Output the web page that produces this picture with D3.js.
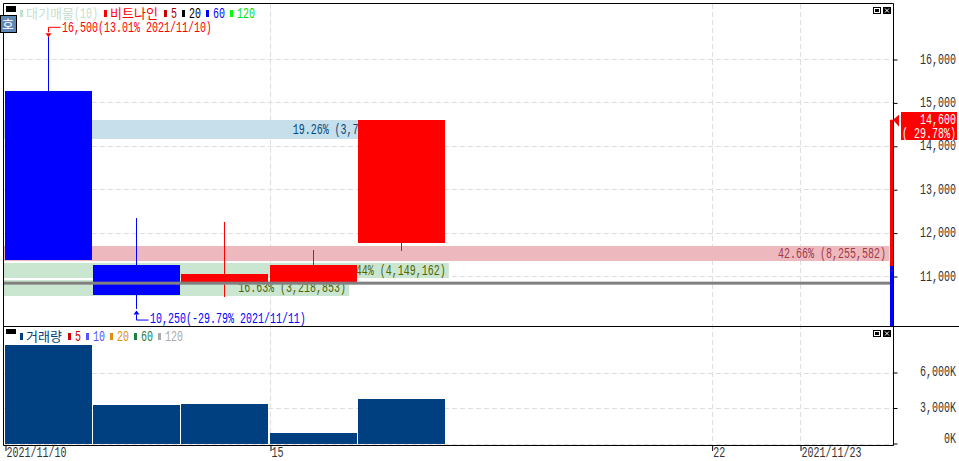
<!DOCTYPE html>
<html>
<head>
<meta charset="utf-8">
<script src="https://cdn.jsdelivr.net/npm/d3@7"></script>
<style>
    html, body { margin: 0; padding: 0; background: #fff; overflow: hidden; }
    svg { display: block; }
</style>
</head>
<body>
<div id="chart"></div>
<script>
// Step 1: chart values
var dates = ["2021/11/10", "11", "12", "15", "16", "17", "18", "19", "22", "2021/11/23"];
var dateTicks = ["2021/11/10", "15", "22", "2021/11/23"];
var gridDates = ["15", "22", "2021/11/23"];

var opens = [15260, 11250, 10860, 10860, 11760];
var closes = [11370, 10560, 11050, 11250, 14600];
var highs = [16500, 12340, 12250, 11600, 14600];
var lows = [11370, 10250, 10520, 10860, 11580];
var volumes = [8330000, 3218853, 3350000, 880000, 3730000];

var priceTicks = [16000, 15000, 14000, 13000, 12000, 11000];
var volumeTicks = [6000000, 3000000, 0];

// waiting-volume bands: price range, share and size
var bandTops = [14600, 11691, 11300, 10908];
var bandBottoms = [14157, 11346, 10954, 10539];
var bandVolumes = [3727285, 8255582, 4149162, 3218853];
var bandShares = ["19.26%", "42.66%", "21.44%", "16.63%"];
var bandKinds = ["blue", "red", "green", "green"];

var avgLine = 10835;
var rangeMid = 11230;
var lastPrice = 14600;

// Step 2: set up the svg
var svgWidth = 959;
var svgHeight = 461;
var mono = "'Liberation Mono', monospace";
var hangul = "'Noto Sans CJK KR', sans-serif";

var svg = d3.select("#chart")
    .append("svg")
    .attr("width", svgWidth)
    .attr("height", svgHeight);

// Step 3: scales
var x = d3.scalePoint().domain(dates).range([5, 800]);
var step = x.step();
var y = d3.scaleLinear().domain([16000, 11000]).range([59, 276]);
var yVol = d3.scaleLinear().domain([0, 6000000]).range([443.5, 372.5]);
var xVolBand = d3.scaleLinear().domain([0, 8255582]).range([4, 889]);

var bandFill = { blue: "#c6dfeb", red: "#eeb9be", green: "#cbe6d0" };
var bandText = { blue: "#004a80", red: "#a03a4a", green: "#4f6400" };

var isHangul = s => /[\uac00-\ud7a3]/.test(s);

// the original font is tall and narrow: 6px per char, so squeeze the mono font sideways
function label(g, str, px, py, color, anchor, size) {
    var fontSize = size || 15;
    return g.append("text")
        .attr("transform", `translate(${px},${py}) scale(${6 / (fontSize * 0.6)},1)`)
        .attr("fill", color)
        .attr("text-anchor", anchor || "start")
        .attr("font-family", mono)
        .attr("font-size", fontSize)
        .text(str);
}

function hangulLabel(g, str, px, py, color) {
    return g.append("text")
        .attr("x", px)
        .attr("y", py)
        .attr("fill", color)
        .attr("font-family", hangul)
        .attr("font-size", 13)
        .text(str);
}

// Step 4: grid
var grid = svg.append("g")
    .attr("stroke", "#dedede")
    .attr("stroke-dasharray", "5,3")
    .attr("fill", "none");

grid.selectAll(".hp").data(priceTicks).enter().append("line")
    .attr("x1", 4).attr("x2", 893)
    .attr("y1", d => Math.round(y(d)) + 0.5)
    .attr("y2", d => Math.round(y(d)) + 0.5);

grid.selectAll(".hv").data(volumeTicks).enter().append("line")
    .attr("x1", 4).attr("x2", 893)
    .attr("y1", d => Math.round(yVol(d)) + 0.5)
    .attr("y2", d => Math.round(yVol(d)) + 0.5);

grid.selectAll(".v").data(gridDates).enter().append("line")
    .attr("x1", d => Math.round(x(d)) + 0.5)
    .attr("x2", d => Math.round(x(d)) + 0.5)
    .attr("y1", 4).attr("y2", 445);

// Step 5: waiting-volume bands
var bands = svg.append("g");
bandVolumes.forEach(function(v, i) {
    var kind = bandKinds[i];
    var top = Math.round(y(bandTops[i]));
    var bottom = Math.round(y(bandBottoms[i]));
    bands.append("rect")
        .attr("x", 4)
        .attr("y", top)
        .attr("width", xVolBand(v) - 4)
        .attr("height", bottom - top)
        .attr("fill", bandFill[kind]);
    label(bands, bandShares[i] + " (" + d3.format(",")(v) + ")",
        xVolBand(v) - 3, (top + bottom) / 2 + 4, bandText[kind], "end");
});

// Step 6: candles
var candles = svg.append("g");
var candleData = d3.range(opens.length);
var bodyX = i => Math.floor(x(dates[i]));
var wickX = i => Math.floor(x(dates[i]) + step / 2) - 1;
var candleColor = i => closes[i] >= opens[i] ? "#ff0000" : "#0000ff";

candles.selectAll(".wick").data(candleData).enter().append("rect")
    .attr("class", "wick")
    .attr("x", i => wickX(i))
    .attr("width", 1)
    .attr("y", i => Math.round(y(highs[i])))
    .attr("height", i => Math.round(y(lows[i])) - Math.round(y(highs[i])))
    .attr("fill", candleColor);

candles.selectAll(".body").data(candleData).enter().append("rect")
    .attr("class", "body")
    .attr("x", i => bodyX(i))
    .attr("y", i => Math.round(y(Math.max(opens[i], closes[i]))))
    .attr("width", 87)
    .attr("height", i => Math.round(Math.abs(y(opens[i]) - y(closes[i]))))
    .attr("fill", candleColor);

// grey average line sits on top of the candles
svg.append("rect")
    .attr("x", 4)
    .attr("y", y(avgLine) - 1.5)
    .attr("width", 889)
    .attr("height", 3)
    .attr("fill", "#808080");

// high / low notes
var hiX = wickX(0) + 0.5;
var hiY = y(highs[0]);
svg.append("path")
    .attr("d", `M${hiX},${hiY - 5}V${hiY - 10}H${hiX + 12}`)
    .attr("fill", "none").attr("stroke", "#ff0000");
svg.append("path")
    .attr("d", `M${hiX - 3},${hiY - 4}H${hiX + 3}L${hiX},${hiY}Z`)
    .attr("fill", "#ff0000");
label(svg, "16,500(13.01% 2021/11/10)", 62, 32, "#ff0000");

var loX = wickX(1) + 0.5;
var loY = y(lows[1]) + 2;
svg.append("path")
    .attr("d", `M${loX},${loY + 4}V${loY + 9.5}H${loX + 12}`)
    .attr("fill", "none").attr("stroke", "#0000ff");
svg.append("path")
    .attr("d", `M${loX - 3},${loY + 4}H${loX + 3}L${loX},${loY}Z`)
    .attr("fill", "#0000ff");
label(svg, "10,250(-29.79% 2021/11/11)", 150, 323, "#0000ff");

// Step 7: price range bar at the right edge
svg.append("rect")
    .attr("x", 890).attr("width", 3)
    .attr("y", y(lastPrice))
    .attr("height", y(rangeMid) - y(lastPrice))
    .attr("fill", "#ff0000");
svg.append("rect")
    .attr("x", 890).attr("width", 3)
    .attr("y", y(rangeMid))
    .attr("height", 326 - y(rangeMid))
    .attr("fill", "#0000ff");

// Step 8: volume bars
svg.append("g").selectAll("rect").data(volumes).enter().append("rect")
    .attr("x", (d, i) => bodyX(i))
    .attr("y", d => Math.round(yVol(d)))
    .attr("width", 87)
    .attr("height", d => 444 - Math.round(yVol(d)))
    .attr("fill", "#004080");

// Step 9: frames
var frame = svg.append("g").attr("stroke", "#000").attr("fill", "none");
frame.append("path").attr("d", "M3.5,3.5H893.5V445.5H3.5Z");
frame.append("line").attr("x1", 3).attr("x2", 959).attr("y1", 326.5).attr("y2", 326.5);

// Step 10: axes
function styleAxis(g) {
    g.select(".domain").remove();
    g.selectAll("line").attr("stroke", "#000");
    g.selectAll("text").remove();
}

svg.append("g")
    .attr("transform", "translate(893.5,0.5)")
    .call(d3.axisRight(y).tickValues(priceTicks).tickSize(4))
    .call(styleAxis);
priceTicks.forEach(function(t) {
    label(svg, d3.format(",")(t), 956, y(t) + 4.5, "#333", "end");
});

svg.append("g")
    .attr("transform", "translate(893.5,0)")
    .call(d3.axisRight(yVol).tickValues(volumeTicks).tickSize(4))
    .call(styleAxis);
volumeTicks.forEach(function(t) {
    label(svg, d3.format(",")(t / 1000) + "K", 956, Math.min(yVol(t) + 3.5, 443), "#333", "end");
});

svg.append("g")
    .attr("transform", "translate(0.5,445)")
    .call(d3.axisBottom(x).tickValues(dateTicks).tickSize(6))
    .call(styleAxis);
dateTicks.forEach(function(t) {
    label(svg, t, x(t) + 1.5, 456.5, "#333", "start", 14);
});

// Step 11: last price tag
svg.append("rect")
    .attr("x", 901).attr("y", 112).attr("width", 56).attr("height", 28)
    .attr("fill", "#ff0000");
svg.append("path")
    .attr("d", `M893,${y(lastPrice)}L899,${y(lastPrice) - 5}V${y(lastPrice) + 7}Z`)
    .attr("fill", "#ff0000");
label(svg, d3.format(",")(lastPrice), 956, 124, "#fff", "end");
label(svg, "( 29.78%)", 956, 138, "#fff", "end");

// Step 12: legends
var priceLegend = [
    { name: "대기매물", extra: "(10)", mark: "#c5e0cc", text: "#c5e0cc", x: 20 },
    { name: "비트나인", mark: "#ff0000", text: "#ff0000", x: 104 },
    { name: "5", mark: "#c80000", text: "#a00000", x: 164 },
    { name: "20", mark: "#000000", text: "#000000", x: 182 },
    { name: "60", mark: "#0000ff", text: "#0000ff", x: 206 },
    { name: "120", mark: "#00ff00", text: "#00e000", x: 230 }
];
var volumeLegend = [
    { name: "거래량", mark: "#004080", text: "#004080", x: 20 },
    { name: "5", mark: "#d00000", text: "#c00000", x: 68 },
    { name: "10", mark: "#5555ff", text: "#5555ff", x: 86 },
    { name: "20", mark: "#e09010", text: "#e09010", x: 110 },
    { name: "60", mark: "#208040", text: "#208040", x: 134 },
    { name: "120", mark: "#aaaaaa", text: "#aaaaaa", x: 158 }
];

function drawLegend(items, top, base) {
    items.forEach(function(d) {
        svg.append("rect")
            .attr("x", d.x).attr("y", top)
            .attr("width", 3).attr("height", 7)
            .attr("fill", d.mark);
        if (isHangul(d.name)) {
            hangulLabel(svg, d.name, d.x + 6, base, d.text);
        } else {
            label(svg, d.name, d.x + 7, base, d.text);
        }
        if (d.extra) {
            label(svg, d.extra, d.x + 6 + d.name.length * 12, base, d.text);
        }
    });
}
drawLegend(priceLegend, 10, 18);
drawLegend(volumeLegend, 333, 341);

// Step 13: small window controls
function winButtons(top) {
    svg.append("rect").attr("x", 873.5).attr("y", top + 0.5).attr("width", 7).attr("height", 6)
        .attr("fill", "#fff").attr("stroke", "#000");
    svg.append("rect").attr("x", 875).attr("y", top + 2).attr("width", 4).attr("height", 3).attr("fill", "#000");
    svg.append("rect").attr("x", 883).attr("y", top).attr("width", 8).attr("height", 7).attr("fill", "#000");
    svg.append("path")
        .attr("d", `M885,${top + 1.5}L889,${top + 5.5}M889,${top + 1.5}L885,${top + 5.5}`)
        .attr("stroke", "#fff");
}
winButtons(7);
winButtons(330);

svg.append("rect").attr("x", 6).attr("y", 6).attr("width", 10).attr("height", 6).attr("fill", "#000");
svg.append("rect").attr("x", 6).attr("y", 329).attr("width", 10).attr("height", 5).attr("fill", "#000");

// side button
svg.append("rect")
    .attr("x", 0.5).attr("y", 15.5).attr("width", 16).attr("height", 17)
    .attr("fill", "#5f88b2").attr("stroke", "#000");
svg.append("text")
    .attr("x", 8).attr("y", 29)
    .attr("text-anchor", "middle")
    .attr("font-family", hangul)
    .attr("font-size", 13)
    .attr("fill", "#fff")
    .text("호");
</script>
</body>
</html>
